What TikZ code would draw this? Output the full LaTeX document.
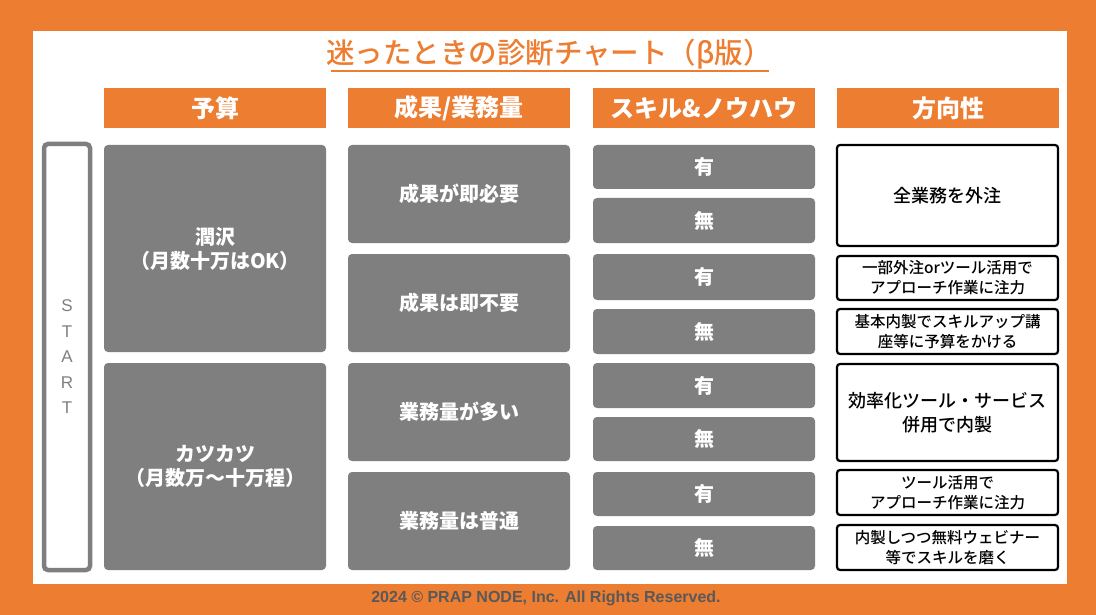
\documentclass[tikz,border=0pt]{standalone}
\usepackage{fontspec}
\setmainfont{Liberation Sans}
\newfontfamily\jp{Noto Sans CJK JP}
\newfontfamily\jpm{Noto Sans CJK JP Medium}
\definecolor{orng}{HTML}{ED7D31}
\definecolor{gry}{HTML}{7F7F7F}
\definecolor{ftxt}{HTML}{595959}
\newcommand\bx[7]{\node[#1, inner sep=0pt, minimum width={(#5-#3)*1pt}, minimum height={(#6-#4)*1pt}] (#2) at ({(#3+#5)/2},{(#4+#6)/2}) {#7};}
\begin{document}
\begin{tikzpicture}[x=1pt,y=-1pt,
  hdr/.style={fill=orng, text=white, font=\jp\bfseries\fontsize{24}{28}\selectfont},
  gbox/.style={fill=gry, rounded corners=4pt, text=white, align=center, font=\jp\bfseries\fontsize{20}{24}\selectfont},
  rbox/.style={draw=black, line width=2.2pt, rounded corners=3pt, fill=white, align=center, font=\jpm\fontsize{15.5}{20}\selectfont},
  rbig/.style={rbox, font=\jpm\fontsize{18}{24}\selectfont}]
\useasboundingbox (0,0) rectangle (1096,615);
\fill[orng] (0,0) rectangle (1096,615);
\bx{fill=white}{panel}{33}{31}{1067}{584}{}
% title
\node[text=orng, inner sep=0pt, font=\jpm\fontsize{28.5}{32}\selectfont] (title) at (549,54) {迷ったときの診断チャート（β版）};
\draw[orng, line width=1.4pt] (331,71) -- (769,71);
% headers
\bx{hdr}{h1}{104}{88}{326}{128}{予算}
\bx{hdr}{h2}{348}{88}{570}{128}{成果/業務量}
\bx{hdr}{h3}{593}{88}{815}{128}{スキル\&ノウハウ}
\bx{hdr}{h4}{837}{88}{1059}{128}{方向性}
% start
\bx{draw=gry, line width=4.5pt, rounded corners=4pt, text=gry, align=center, font=\fontsize{17}{25.5}\selectfont}{start}{44}{144}{90}{570}{S\\T\\A\\R\\T}
% column 1
\bx{gbox}{b1}{104}{145}{326}{352}{潤沢\\（月数十万はOK）}
\bx{gbox}{b2}{104}{363}{326}{570}{カツカツ\\（月数万～十万程）}
% column 2
\bx{gbox}{c1}{348}{145}{570}{243}{成果が即必要}
\bx{gbox}{c2}{348}{254}{570}{352}{成果は即不要}
\bx{gbox}{c3}{348}{363}{570}{461}{業務量が多い}
\bx{gbox}{c4}{348}{472}{570}{570}{業務量は普通}
% column 3
\bx{gbox}{d1}{593}{145}{815}{189}{有}
\bx{gbox}{d2}{593}{198}{815}{243}{無}
\bx{gbox}{d3}{593}{254}{815}{300}{有}
\bx{gbox}{d4}{593}{309}{815}{354}{無}
\bx{gbox}{d5}{593}{363}{815}{408}{有}
\bx{gbox}{d6}{593}{417}{815}{461}{無}
\bx{gbox}{d7}{593}{472}{815}{516}{有}
\bx{gbox}{d8}{593}{526}{815}{570}{無}
% column 4
\bx{rbig}{e1}{837}{145}{1058}{246}{全業務を外注}
\bx{rbox}{e2}{837}{256}{1058}{300}{一部外注orツール活用で\\アプローチ作業に注力}
\bx{rbox}{e3}{837}{309}{1058}{354}{基本内製でスキルアップ講\\座等に予算をかける}
\bx{rbig}{e4}{837}{364}{1058}{461}{効率化ツール・サービス\\併用で内製}
\bx{rbox}{e5}{837}{470}{1058}{515}{ツール活用で\\アプローチ作業に注力}
\bx{rbox}{e6}{837}{525}{1058}{570}{内製しつつ無料ウェビナー\\等でスキルを磨く}
% footer
\node[text=ftxt, inner sep=0pt, font=\bfseries\fontsize{16}{18}\selectfont] (foot) at (546,598) {2024 © PRAP NODE, Inc. All Rights Reserved.};
\end{tikzpicture}
\end{document}
